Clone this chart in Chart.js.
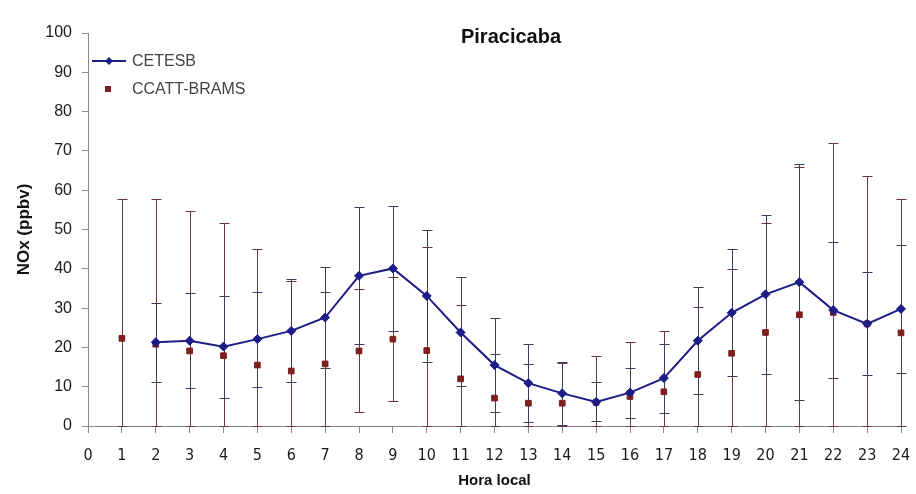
<!DOCTYPE html>
<html>
<head>
<meta charset="utf-8">
<script src="https://cdn.jsdelivr.net/npm/chart.js@4/dist/chart.umd.min.js"></script>
<style>
  html, body { margin: 0; padding: 0; background: #ffffff; }
  #wrap { width: 916px; height: 494px; position: relative; }
</style>
</head>
<body>
<div id="wrap"><canvas id="c" width="916" height="494"></canvas></div>
<script>
// ---- data ----
const hours = [1, 2, 3, 4, 5, 6, 7, 8, 9, 10, 11, 12, 13, 14, 15, 16, 17, 18, 19, 20, 21, 22, 23, 24];
const cetesb     = [null, 21.3, 21.7, 20.2, 22.1, 24.2, 27.6, 38.2, 40.1, 33.1, 23.8, 15.5, 10.9, 8.3, 6.1, 8.5, 12.2, 21.7, 28.8, 33.5, 36.6, 29.5, 26.0, 29.8];
const cetesbLow  = [null, 11.1, 9.6, 7.0, 9.8, 11.3, 14.8, 20.8, 24.2, 16.2, 10.2, 3.5, 0.9, 0.2, 1.3, 2.0, 3.2, 8.1, 12.7, 13.3, 6.6, 12.1, 13.0, 13.4];
const cetesbHigh = [null, 31.2, 33.8, 33.1, 34.2, 37.4, 40.4, 55.7, 56.1, 50.0, 37.8, 27.6, 20.9, 16.3, 11.2, 14.8, 20.9, 35.3, 45.0, 53.7, 66.6, 46.9, 39.3, 46.0];
const model      = [22.3, 20.8, 19.1, 17.9, 15.5, 14.0, 15.8, 19.1, 22.1, 19.2, 12.0, 7.1, 5.8, 5.8, 6.0, 7.5, 8.7, 13.1, 18.5, 23.8, 28.3, 28.9, 26.0, 23.7];
const modelLow   = [0, 0, 0, 0, 0, 0, 0, 3.5, 6.3, 0, 0, 0, 0, 0, 0, 0, 0, 0, 0, 0, 0, 0, 0, 0];
const modelHigh  = [57.8, 57.8, 54.7, 51.7, 45.0, 37.0, 34.2, 34.8, 37.9, 45.5, 30.7, 18.4, 15.7, 16.0, 17.9, 21.5, 24.2, 30.2, 39.9, 51.7, 66.0, 72.1, 63.7, 57.8];
const xTicks = [0, 1, 2, 3, 4, 5, 6, 7, 8, 9, 10, 11, 12, 13, 14, 15, 16, 17, 18, 19, 20, 21, 22, 23, 24];
const yTicks = [0, 10, 20, 30, 40, 50, 60, 70, 80, 90, 100];
const seriesNames = ['CETESB', 'CCATT-BRAMS'];
const chartTitle = 'Piracicaba';
const xTitle = 'Hora local';
const yTitle = 'NOx (ppbv)';

// ---- styles ----
const NAVY = '#1c1c86';
const MAROON = '#7e1e1e';
const ERR_MODEL = '#6a3838';
const ERR_CET = '#3c3c5e';
const AXIS = '#8a8a8a';

const cetesbPts = hours.map((h, i) => ({ x: h, y: cetesb[i] }));
const modelPts = hours.map((h, i) => ({ x: h, y: model[i] }));

const errorBarPlugin = {
  id: 'errorBars',
  beforeDatasetsDraw(chart) {
    const { ctx, scales: { x, y } } = chart;
    const cap = 5;
    ctx.save();
    ctx.lineWidth = 1;
    function bar(h, lo, hi, color) {
      if (lo == null || hi == null) return;
      const px = Math.round(x.getPixelForValue(h)) + 0.5;
      const pLo = Math.round(y.getPixelForValue(lo)) + 0.5;
      const pHi = Math.round(y.getPixelForValue(hi)) + 0.5;
      ctx.strokeStyle = color;
      ctx.beginPath();
      ctx.moveTo(px, pLo); ctx.lineTo(px, pHi);
      ctx.moveTo(px - cap, pHi); ctx.lineTo(px + cap, pHi);
      ctx.moveTo(px - cap, pLo); ctx.lineTo(px + cap, pLo);
      ctx.stroke();
    }
    hours.forEach((h, i) => bar(h, modelLow[i], modelHigh[i], ERR_MODEL));
    hours.forEach((h, i) => bar(h, cetesbLow[i], cetesbHigh[i], ERR_CET));
    ctx.restore();
  }
};

const overlayPlugin = {
  id: 'overlay',
  afterDraw(chart) {
    const { ctx } = chart;
    ctx.save();
    // title
    ctx.fillStyle = '#111';
    ctx.font = 'bold 20px "Liberation Sans", Arial, sans-serif';
    ctx.textAlign = 'center';
    ctx.textBaseline = 'middle';
    ctx.fillText(chartTitle, 511, 37);
    // legend
    ctx.textAlign = 'left';
    ctx.font = '16px "Liberation Sans", Arial, sans-serif';
    ctx.strokeStyle = NAVY;
    ctx.lineWidth = 2;
    ctx.beginPath(); ctx.moveTo(92, 61); ctx.lineTo(126, 61); ctx.stroke();
    ctx.fillStyle = NAVY;
    ctx.beginPath();
    ctx.moveTo(109, 57); ctx.lineTo(113, 61); ctx.lineTo(109, 65); ctx.lineTo(105, 61); ctx.closePath();
    ctx.fill();
    ctx.fillStyle = MAROON;
    ctx.fillRect(105, 86, 6, 6);
    ctx.fillStyle = '#444';
    ctx.fillText(seriesNames[0], 132, 62);
    ctx.fillText(seriesNames[1], 132, 90);
    ctx.restore();
  }
};

new Chart(document.getElementById('c'), {
  type: 'scatter',
  data: {
    datasets: [
      {
        label: seriesNames[0],
        data: cetesbPts,
        showLine: true,
        spanGaps: false,
        clip: false,
        borderColor: NAVY,
        backgroundColor: NAVY,
        borderWidth: 2,
        pointStyle: 'rectRot',
        pointRadius: 4.5,
        pointBorderWidth: 1,
        order: 1
      },
      {
        label: seriesNames[1],
        data: modelPts,
        showLine: false,
        clip: false,
        borderColor: MAROON,
        backgroundColor: MAROON,
        pointStyle: 'rect',
        pointRadius: 4,
        pointBorderWidth: 1,
        order: 2
      }
    ]
  },
  options: {
    responsive: false,
    animation: false,
    layout: { autoPadding: false, padding: { left: 0, right: 15, top: 33, bottom: 0 } },
    plugins: {
      legend: { display: false },
      tooltip: { enabled: false },
      title: { display: false }
    },
    scales: {
      x: {
        type: 'linear',
        min: 0,
        max: 24,
        afterBuildTicks(scale) { scale.ticks = xTicks.map(v => ({ value: v })); },
        afterFit(scale) { scale.height = 68; scale.paddingLeft = 0; scale.paddingRight = 0; },
        grid: { drawOnChartArea: false, drawTicks: true, tickLength: 7, color: AXIS },
        border: { display: true, color: AXIS, width: 1 },
        ticks: {
          autoSkip: false,
          maxRotation: 0,
          padding: 13,
          color: '#1a1a1a',
          font: { family: '"Liberation Sans Narrow", "DejaVu Sans Condensed", "Liberation Sans", Arial, sans-serif', size: 16 }
        },
        title: {
          display: true,
          text: xTitle,
          color: '#111',
          padding: { top: 0, bottom: 4 },
          font: { family: '"Liberation Sans", Arial, sans-serif', size: 15, weight: 'bold' }
        }
      },
      y: {
        min: 0,
        max: 100,
        afterBuildTicks(scale) { scale.ticks = yTicks.map(v => ({ value: v })); },
        afterFit(scale) { scale.width = 88; },
        grid: { drawOnChartArea: false, drawTicks: true, tickLength: 6, color: AXIS },
        border: { display: true, color: AXIS, width: 1 },
        ticks: {
          padding: 10,
          color: '#1a1a1a',
          font: { family: '"Liberation Sans", Arial, sans-serif', size: 16 }
        },
        title: {
          display: true,
          text: yTitle,
          color: '#111',
          padding: { top: 14, bottom: 0 },
          font: { family: '"Liberation Sans", Arial, sans-serif', size: 17, weight: 'bold' }
        }
      }
    }
  },
  plugins: [errorBarPlugin, overlayPlugin]
});
</script>
</body>
</html>
